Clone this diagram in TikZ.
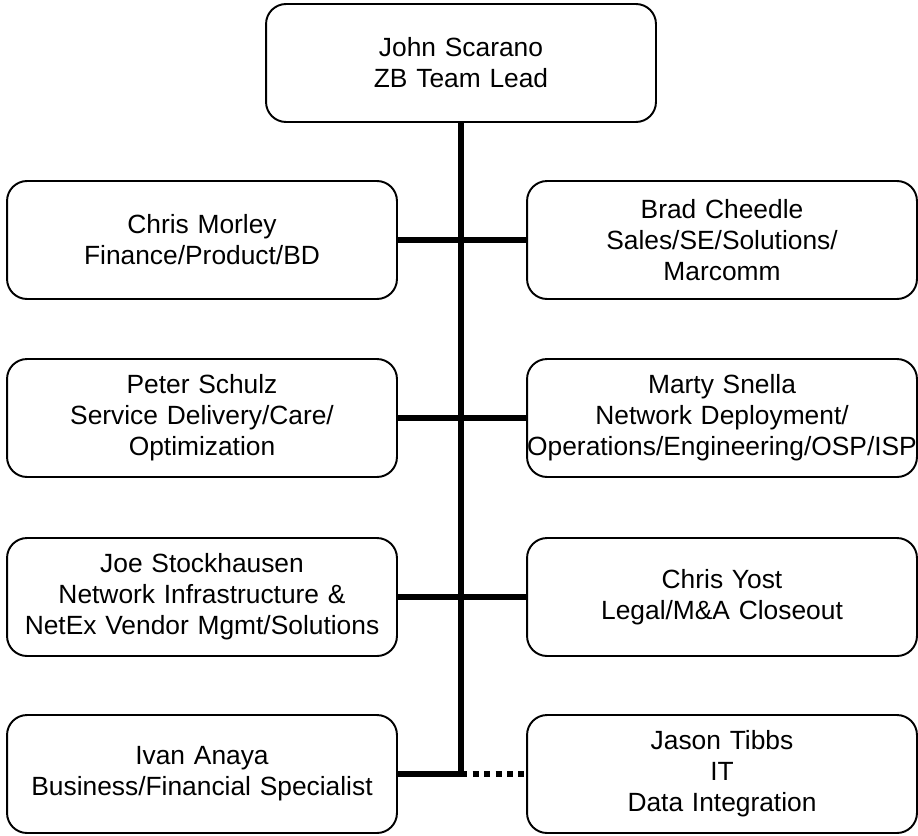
\documentclass[tikz,border=0pt]{standalone}
\usepackage{fontspec}
\setmainfont{Liberation Sans}
\usepackage{tikz}

\begin{document}
\begin{tikzpicture}
        [
            x = 0.02cm, y = -0.02cm,
            person/.style = {draw, line width = 1.1pt, rounded corners = 0.4cm,
                text width = 7.8cm, inner xsep = 0pt, minimum height = 2.36cm,
                align = center, font = \fontsize{15pt}{17.6pt}\selectfont},
            trunk/.style = {line width = 3.4pt},
            vacant/.style = {line width = 3.4pt, dash pattern = on 0.12cm off 0.11cm}
        ]
        \useasboundingbox (0,0) rectangle (918,835);

        \node[person] (scarano) at (461,63) {John Scarano\\ZB Team Lead};

        % left column
        \node[person] (morley) at (202,240) {Chris Morley\\Finance/Product/BD};
        \node[person] (schulz) at (202,418) {Peter Schulz\\Service Delivery/Care/\\Optimization};
        \node[person] (stockhausen) at (202,597) {Joe Stockhausen\\Network Infrastructure \&\\NetEx Vendor Mgmt/Solutions};
        \node[person] (anaya) at (202,774) {Ivan Anaya\\Business/Financial Specialist};

        % right column
        \node[person] (cheedle) at (722,240) {Brad Cheedle\\Sales/SE/Solutions/\\Marcomm};
        \node[person] (snella) at (722,418) {Marty Snella\\Network Deployment/\\Operations/Engineering/OSP/ISP};
        \node[person] (yost) at (722,597) {Chris Yost\\Legal/M\&A Closeout};
        \node[person] (tibbs) at (722,774) {Jason Tibbs\\IT\\Data Integration};

        \coordinate (corner) at (scarano.south |- anaya.east);

        \draw[trunk] (scarano.south) |- (anaya.east);
        \draw[trunk] (morley.east) -- (cheedle.west);
        \draw[trunk] (schulz.east) -- (snella.west);
        \draw[trunk] (stockhausen.east) -- (yost.west);
        \draw[vacant] (corner) -- (tibbs.west);
\end{tikzpicture}
\end{document}
